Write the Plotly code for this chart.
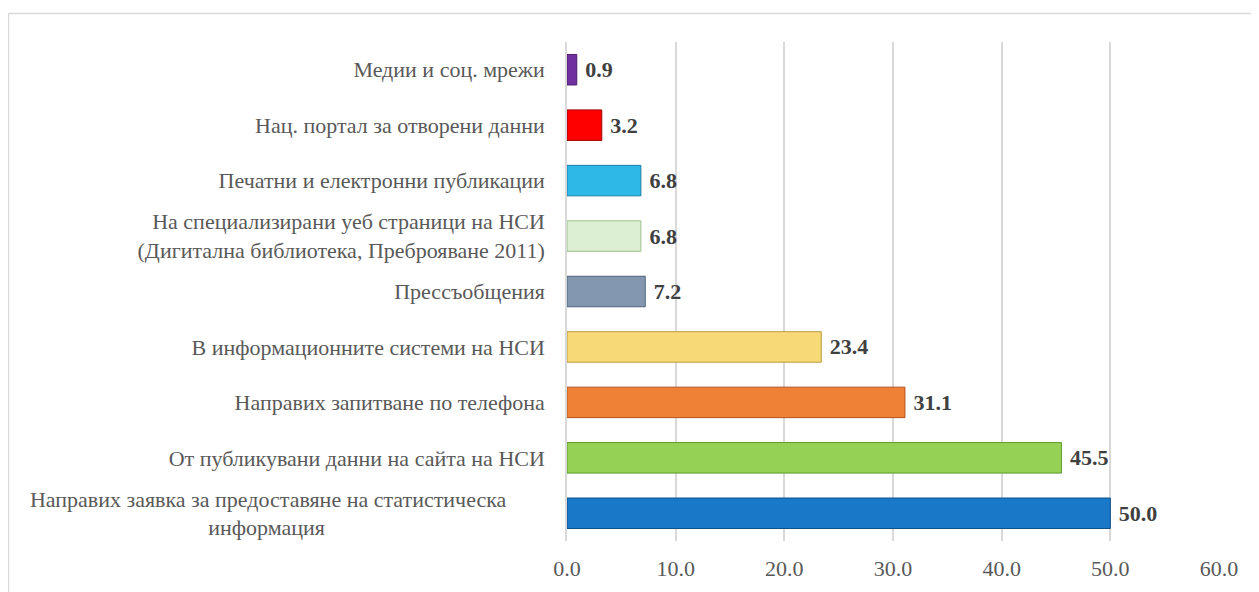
import plotly.graph_objects as go

NB = "\u00a0"
categories = [
    "Медии и соц. мрежи",
    "Нац. портал за отворени данни",
    "Печатни и електронни публикации",
    "На специализирани уеб страници на НСИ<br>(Дигитална библиотека, Преброяване 2011)",
    "Прессъобщения",
    "В информационните системи на НСИ",
    "Направих запитване по телефона",
    "От публикувани данни на сайта на НСИ",
    "Направих заявка за предоставяне на статистическа" + NB * 7 + "<br>информация" + NB * 40,
]
values = [0.9, 3.2, 6.8, 6.8, 7.2, 23.4, 31.1, 45.5, 50.0]
fill_colors = ["#7030A0", "#FF0000", "#2DB8E8", "#DDEFD3", "#8497B0",
               "#F7D978", "#EE8136", "#95D154", "#1A78C9"]
line_colors = ["#4B1F6E", "#A00000", "#1C7FA3", "#9DBF8C", "#4F627C",
               "#B89A3E", "#B0541A", "#5E9A2A", "#0F4F88"]
x_ticks = [0, 10, 20, 30, 40, 50, 60]

serif = "Liberation Serif, Times New Roman, serif"

fig = go.Figure(go.Bar(
    y=categories,
    x=values,
    orientation="h",
    marker=dict(color=fill_colors, line=dict(color=line_colors, width=1)),
    texttemplate=NB + "%{x:.1f}",
    textposition="outside",
    textfont=dict(family=serif, size=22, color="#404040", weight="bold"),
    cliponaxis=False,
    width=0.55,
))

fig.update_layout(
    width=1259, height=592,
    margin=dict(l=559, r=48, t=34, b=59, autoexpand=False),
    paper_bgcolor="white", plot_bgcolor="white",
    showlegend=False,
    font=dict(family=serif, size=22, color="#595959"),
    xaxis=dict(
        range=[0, 60], tickvals=x_ticks, tickformat=".1f",
        showgrid=True, gridcolor="#D9D9D9", gridwidth=1.5,
        zeroline=False, showline=False, ticks="",
        ticklabelstandoff=12, automargin=False,
        tickfont=dict(family=serif, size=22, color="#595959"),
    ),
    yaxis=dict(
        autorange="reversed", showgrid=False, zeroline=False,
        showline=True, linecolor="#D9D9D9", linewidth=1.5, ticks="",
        ticklabelstandoff=16, automargin=False,
        tickfont=dict(family=serif, size=22, color="#595959"),
    ),
    shapes=[
        dict(type="line", xref="paper", yref="paper",
             x0=-0.8566, x1=1.2, y0=1.0571, y1=1.0571,
             line=dict(color="#D9D9D9", width=1.5)),
        dict(type="line", xref="paper", yref="paper",
             x0=-0.8566, x1=-0.8566, y0=1.0571, y1=-0.3,
             line=dict(color="#D9D9D9", width=1.5)),
    ],
)

fig.write_html("out.html")
